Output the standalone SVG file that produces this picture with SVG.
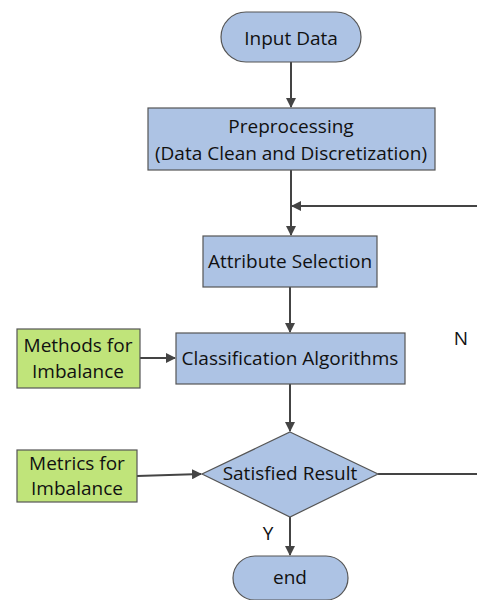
<svg xmlns="http://www.w3.org/2000/svg" width="477" height="600" viewBox="0 0 477 600">
<defs>
<style>
.n{fill:#adc3e4;stroke:#555;stroke-width:1.2}
.g{fill:#c0e47a;stroke:#555;stroke-width:1.2}
.t{font-family:"Open Sans","Noto Sans",sans-serif;font-size:19px;fill:#111;text-anchor:middle}
.c{stroke:#444;stroke-width:2;fill:none}
</style>
<marker id="a" markerWidth="10" markerHeight="10" refX="9" refY="5" orient="auto" markerUnits="userSpaceOnUse" viewBox="0 0 10 10">
<path d="M0,0 L10,5 L0,10 z" fill="#444"/>
</marker>
</defs>
<rect width="477" height="600" fill="#fff"/>
<g id="connectors">
<path class="c" d="M291,62 V107" marker-end="url(#a)"/>
<path class="c" d="M291,170 V235" marker-end="url(#a)"/>
<path class="c" d="M477,206 H292" marker-end="url(#a)"/>
<path class="c" d="M290,287 V332" marker-end="url(#a)"/>
<path class="c" d="M140,358 H175" marker-end="url(#a)"/>
<path class="c" d="M290,384 V431" marker-end="url(#a)"/>
<path class="c" d="M137,476 L201,474" marker-end="url(#a)"/>
<path class="c" d="M378,474 H477"/>
<path class="c" d="M290,517 V555" marker-end="url(#a)"/>
<text class="t" x="461" y="345">N</text>
<text class="t" x="268" y="540">Y</text>
</g>
<g id="input">
<rect class="n" x="221" y="12" width="140" height="50" rx="25"/>
<text class="t" x="291" y="45">Input Data</text>
</g>
<g id="preprocessing">
<rect class="n" x="148" y="108" width="287" height="62"/>
<text class="t" x="291" y="133">Preprocessing</text>
<text class="t" x="291" y="160">(Data Clean and Discretization)</text>
</g>
<g id="attribute">
<rect class="n" x="203" y="236" width="174" height="51"/>
<text class="t" x="290" y="268">Attribute Selection</text>
</g>
<g id="classification">
<rect class="n" x="176" y="333" width="229" height="51"/>
<text class="t" x="290" y="365">Classification Algorithms</text>
</g>
<g id="methods">
<rect class="g" x="17" y="329" width="123" height="59"/>
<text class="t" x="78" y="352">Methods for</text>
<text class="t" x="78" y="378">Imbalance</text>
</g>
<g id="decision">
<polygon class="n" points="290,432 378,474 290,517 202,474"/>
<text class="t" x="290" y="480">Satisfied Result</text>
</g>
<g id="metrics">
<rect class="g" x="17" y="450" width="120" height="52"/>
<text class="t" x="77" y="470">Metrics for</text>
<text class="t" x="77" y="495">Imbalance</text>
</g>
<g id="end">
<rect class="n" x="233" y="556" width="115" height="44" rx="22"/>
<text class="t" x="290" y="584">end</text>
</g>
</svg>
